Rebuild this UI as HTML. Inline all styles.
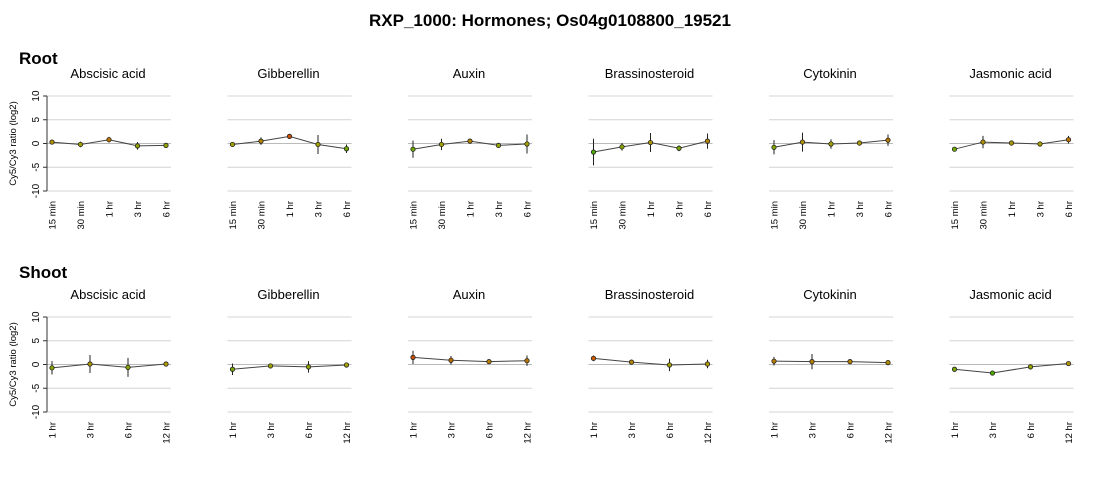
<!DOCTYPE html>
<html><head><meta charset="utf-8"><style>
body{margin:0;background:#fff;width:1100px;height:480px;overflow:hidden;font-family:"Liberation Sans",sans-serif}
</style></head><body>
<svg id="c" width="1100" height="480" font-family="Liberation Sans, sans-serif"></svg>
<script>
const panelTitles = ["Abscisic acid","Gibberellin","Auxin","Brassinosteroid","Cytokinin","Jasmonic acid"];
const rootTimes = ["15 min","30 min","1 hr","3 hr","6 hr"];
const shootTimes = ["1 hr","3 hr","6 hr","12 hr"];
const yTicks = [10,5,0,-5,-10];
const rootValues = [
 [0.3,-0.2,0.8,-0.5,-0.4],
 [-0.2,0.5,1.5,-0.2,-1.1],
 [-1.2,-0.2,0.5,-0.4,-0.1],
 [-1.8,-0.7,0.2,-1.0,0.5],
 [-0.8,0.3,-0.1,0.1,0.7],
 [-1.2,0.3,0.1,-0.1,0.8]];
const rootErr = [
 [0.3,0.6,0.6,0.8,0.3],
 [0.4,0.8,0.5,2.0,0.9],
 [1.8,1.2,0.5,0.4,2.0],
 [2.8,0.8,2.0,0.6,1.6],
 [1.5,2.0,1.0,0.3,1.2],
 [0.4,1.3,0.3,0.2,0.8]];
const shootValues = [
 [-0.7,0.1,-0.6,0.1],
 [-1.0,-0.3,-0.5,-0.1],
 [1.5,0.9,0.6,0.8],
 [1.3,0.5,-0.1,0.1],
 [0.7,0.6,0.6,0.4],
 [-1.0,-1.8,-0.5,0.2]];
const shootErr = [
 [1.4,1.9,2.0,0.3],
 [1.2,0.3,1.2,0.2],
 [1.4,0.9,0.4,1.1],
 [0.6,0.3,1.3,0.9],
 [0.9,1.6,0.5,0.3],
 [0.2,0.4,0.3,0.4]];

const svg=document.getElementById('c');const NS='http://www.w3.org/2000/svg';
function mk(t,a,p){const e=document.createElementNS(NS,t);for(const k in a)e.setAttribute(k,a[k]);(p||svg).appendChild(e);return e;}
function col(v){const t=Math.max(-1,Math.min(1,v/2));if(t>=0){return `rgb(${Math.round(170+40*t)},${Math.round(160-110*t)},0)`}return `rgb(${Math.round(170+100*t)},${Math.round(160+10*-t)},0)`;}

let tt=mk('text',{x:550,y:26,'text-anchor':'middle','font-size':17,'font-weight':'bold'});


tt.textContent='RXP_1000: Hormones; Os04g0108800_19521';

function row(label,labelY,top,bottom,times,vals,errs,name){
  let h=mk('text',{x:19,y:labelY,'font-size':17,'font-weight':'bold'});
  
  
  h.textContent=label;
  const y=v=>top+(10-v)/20*(bottom-top);
  for(let p=0;p<6;p++){
    const x0=47+p*180.5,w=124;
    const g=mk('g',{});
    
    
    const ti=mk('text',{x:x0+61,y:top-18,'text-anchor':'middle','font-size':13},g);
    
    
    ti.textContent=panelTitles[p];
    yTicks.forEach(t=>{const l=mk('line',{x1:x0,x2:x0+w,y1:y(t),y2:y(t),stroke:t==0?'#bbb':'#d4d4d4','stroke-width':1},g);
      
      });
    if(p==0){
      const ax=mk('line',{x1:x0,x2:x0,y1:y(10),y2:y(-10),stroke:'#333'},g);
      
      
      yTicks.forEach(t=>{mk('line',{x1:x0-4,x2:x0,y1:y(t),y2:y(t),stroke:'#333'},g);
        const tl=mk('text',{transform:`translate(${x0-8},${y(t)}) rotate(-90)`,'text-anchor':'middle','font-size':10},g);
        
        
        tl.textContent=t;});
      const yt=mk('text',{transform:`translate(16,${(top+bottom)/2}) rotate(-90)`,'text-anchor':'middle','font-size':9.5},g);
      
      
      yt.textContent='Cy5/Cy3 ratio (log2)';
    }
    const n=times.length,xs=i=>x0+5+i*(114/(n-1));
    times.forEach((t,i)=>{const tl=mk('text',{transform:`translate(${xs(i)+3.5},${bottom+10}) rotate(-90)`,'text-anchor':'end','font-size':9.5},g);
      
      
      tl.textContent=t;});
    vals[p].forEach((v,i)=>{const e=mk('line',{x1:xs(i),x2:xs(i),y1:y(v-errs[p][i]),y2:y(v+errs[p][i]),stroke:'#222','stroke-width':1},g);
      
      });
    const pl=mk('polyline',{points:vals[p].map((v,i)=>xs(i)+','+y(v)).join(' '),fill:'none',stroke:'#444','stroke-width':1},g);
    
    
    vals[p].forEach((v,i)=>{const c=mk('circle',{cx:xs(i),cy:y(v),r:2.2,fill:col(v),stroke:'#222','stroke-width':0.8},g);
      
      });
  }
}
row('Root',64,96,191,rootTimes,rootValues,rootErr,'root');
row('Shoot',278,317,412,shootTimes,shootValues,shootErr,'shoot');
</script>
</body></html>
